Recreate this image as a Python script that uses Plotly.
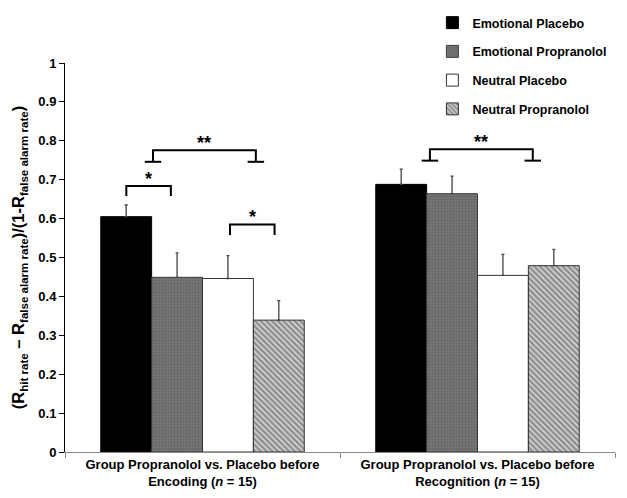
import plotly.graph_objects as go

categories = [
    "Group Propranolol vs. Placebo before<br>Encoding (<i>n</i> = 15)",
    "Group Propranolol vs. Placebo before<br>Recognition (<i>n</i> = 15)",
]
series_names = ["Emotional Placebo", "Emotional Propranolol", "Neutral Placebo", "Neutral Propranolol"]
emo_placebo = [0.605, 0.688]
emo_placebo_se = [0.030, 0.039]
emo_prop = [0.449, 0.664]
emo_prop_se = [0.063, 0.045]
neu_placebo = [0.446, 0.454]
neu_placebo_se = [0.059, 0.054]
neu_prop = [0.339, 0.479]
neu_prop_se = [0.050, 0.042]

y_ticks = [0, 0.1, 0.2, 0.3, 0.4, 0.5, 0.6, 0.7, 0.8, 0.9, 1]
y_tick_text = ["0", "0.1", "0.2", "0.3", "0.4", "0.5", "0.6", "0.7", "0.8", "0.9", "1"]

# significance brackets: (x_left, x_right, y_top, y_bottom, label, feet)
brackets = [
    (-0.277, -0.115, 0.684, 0.658, "*", False),
    (0.100, 0.262, 0.585, 0.558, "*", False),
    (-0.180, 0.194, 0.776, 0.746, "**", True),
    (1 - 0.173, 1 + 0.201, 0.778, 0.749, "**", True),
]
foot_half = 0.03

FONT = "Liberation Sans, Arial, sans-serif"

styles = [
    dict(color="#000000", line=dict(color="#000000", width=1)),
    dict(color="#6e6e6e", line=dict(color="#3a3a3a", width=1),
         pattern=dict(shape=".", size=3, solidity=0.4, fgcolor="#505050", bgcolor="#767676")),
    dict(color="#ffffff", line=dict(color="#333333", width=1)),
    dict(color="#a0a0a0", line=dict(color="#333333", width=1),
         pattern=dict(shape="\\", size=4, solidity=0.5, fgcolor="#404040", bgcolor="#cfcfcf")),
]
values = [emo_placebo, emo_prop, neu_placebo, neu_prop]
errors = [emo_placebo_se, emo_prop_se, neu_placebo_se, neu_prop_se]

fig = go.Figure()
for i, (name, vals, errs, st) in enumerate(zip(series_names, values, errors, styles)):
    fig.add_trace(go.Bar(
        x=categories, y=vals, name=name, marker=st, legendgroup=f"g{i}",
        error_y=dict(type="data", array=errs, arrayminus=[0] * len(errs), symmetric=False,
                     color="#444444", thickness=1.3, width=1.5),
    ))

shapes = []
annotations = []
for x0, x1, yt, yb, lab, feet in brackets:
    shapes.append(dict(type="path", xref="x", yref="y",
                       path=f"M {x0},{yb} L {x0},{yt} L {x1},{yt} L {x1},{yb}",
                       line=dict(color="#000000", width=2)))
    if feet:
        for xx in (x0, x1):
            shapes.append(dict(type="line", xref="x", yref="y", x0=xx - foot_half, x1=xx + foot_half,
                               y0=yb, y1=yb, line=dict(color="#000000", width=2)))
    annotations.append(dict(x=(x0 + x1) / 2, y=yt, xref="x", yref="y", text=f"<b>{lab}</b>",
                            showarrow=False, yanchor="bottom", yshift=-5,
                            font=dict(family=FONT, size=18, color="#000000")))

fig.update_layout(
    width=619, height=490,
    margin=dict(l=57, r=12, t=55, b=46, autoexpand=False),
    plot_bgcolor="#ffffff", paper_bgcolor="#ffffff",
    barmode="group", bargap=0.26, bargroupgap=0,
    font=dict(family=FONT, size=12, color="#000000", weight="bold"),
    showlegend=True,
    legend=dict(x=0.668, y=1.01, xref="paper", yref="container", xanchor="left", yanchor="top",
                font=dict(family=FONT, size=12.5, color="#000000", weight="bold"),
                tracegroupgap=9.5, itemwidth=30, bgcolor="rgba(0,0,0,0)", traceorder="grouped"),
    shapes=shapes, annotations=annotations,
)
fig.update_xaxes(showline=True, linecolor="#888888", linewidth=1, ticks="outside", tickson="boundaries",
                 ticklen=5, tickcolor="#888888", showgrid=False,
                 tickfont=dict(family=FONT, size=13, color="#000000", weight="bold"))
fig.update_yaxes(range=[0, 1.0], tickvals=y_ticks, ticktext=y_tick_text, showline=True, linecolor="#000000",
                 linewidth=1, ticks="outside", ticklen=5, tickcolor="#000000", showgrid=False, zeroline=False,
                 tickfont=dict(family=FONT, size=13, color="#000000", weight="bold"),
                 title=dict(text="(R<sub>hit rate</sub> – R<sub>false alarm rate</sub>)/(1-R<sub>false alarm rate</sub>)",
                            font=dict(family=FONT, size=16.5, color="#000000", weight="bold"), standoff=9))

fig.write_html("out.html")
